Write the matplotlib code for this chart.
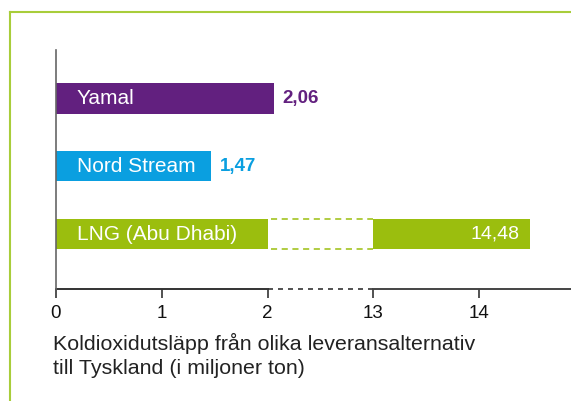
import matplotlib.pyplot as plt
from matplotlib.lines import Line2D

plt.rcParams['font.family'] = ['Liberation Sans', 'DejaVu Sans']

# data
names = ["Yamal", "Nord Stream", "LNG (Abu Dhabi)"]
values = [2.06, 1.47, 14.48]
labels = ["2,06", "1,47", "14,48"]
colors = ["#62207f", "#0a9fe0", "#9bbe0e"]
ticks = [0, 1, 2, 13, 14]

# broken axis: everything between brk_lo and brk_hi is squeezed to one unit
brk_lo, brk_hi = 2, 13
gap = brk_hi - brk_lo - 1


def pos(v):
    return v if v <= brk_lo else v - gap


fig = plt.figure(figsize=(5.71, 4.01), dpi=100)
W, H = 571, 401
x0, unit = 55.7, 105.9
ax = fig.add_axes([x0 / W, 1 - 288.5 / H, 1 - x0 / W, (288.5 - 50) / H])

ypos = list(range(len(names)))
bh = 0.45
for y, name, v, lab, c in zip(ypos, names, values, labels, colors):
    if v > brk_hi:
        ax.barh(y, brk_lo, height=bh, color=c)
        ax.barh(y, pos(v) - pos(brk_hi), left=pos(brk_hi), height=bh, color=c)
        for yy in (y - bh / 2, y + bh / 2):
            ax.plot([pos(brk_lo) + 0.03, pos(brk_hi)], [yy, yy], color=c, lw=1.1,
                    ls=(0, (4, 3)))
        ax.text(pos(v) - 0.1, y, lab, color="white", fontsize=14,
                ha="right", va="center")
    else:
        ax.barh(y, v, height=bh, color=c)
        ax.text(v + 0.085, y, lab, color=c, fontsize=13.5, fontweight="bold",
                ha="left", va="center")
    ax.text(0.2, y, name, color="white", fontsize=15, ha="left", va="center")

ax.set_ylim(2.80, -0.71)
ax.set_xlim(0, (W - x0) / unit)

for s in ("top", "right", "bottom"):
    ax.spines[s].set_visible(False)
ax.spines["left"].set_color("#666666")
ax.spines["left"].set_linewidth(1.2)
ax.set_yticks([])

# x axis line with dashed break
yb = ax.get_ylim()[0]
ax.plot([0, pos(brk_lo)], [yb, yb], color="#333333", lw=1.4, clip_on=False)
ax.plot([pos(brk_lo), pos(brk_hi)], [yb, yb], color="#333333", lw=1.2,
        ls=(0, (3, 3)), clip_on=False)
ax.plot([pos(brk_hi), ax.get_xlim()[1]], [yb, yb], color="#444444", lw=1.4,
        clip_on=False)

ax.set_xticks([pos(t) for t in ticks])
ax.set_xticklabels([str(t) for t in ticks], fontsize=13.5, color="#111111")
ax.tick_params(axis="x", direction="out", length=6.5, width=1.2, color="#333333",
               pad=5.5)

fig.text(53 / W, 1 - 343 / H, "Koldioxidutsläpp från olika leveransalternativ",
         fontsize=15.4, va="center", ha="left", color="#222222")
fig.text(53 / W, 1 - 368 / H, "till Tyskland (i miljoner ton)",
         fontsize=15.4, va="center", ha="left", color="#222222")

# green frame
fc = "#a8cd3a"
fig.add_artist(Line2D([9.7 / W, 9.7 / W], [0, 1 - 11.7 / H], color=fc, lw=1.5))
fig.add_artist(Line2D([9.7 / W, 1], [1 - 11.7 / H, 1 - 11.7 / H], color=fc, lw=1.5))

fig.savefig("out.png", dpi=100)
